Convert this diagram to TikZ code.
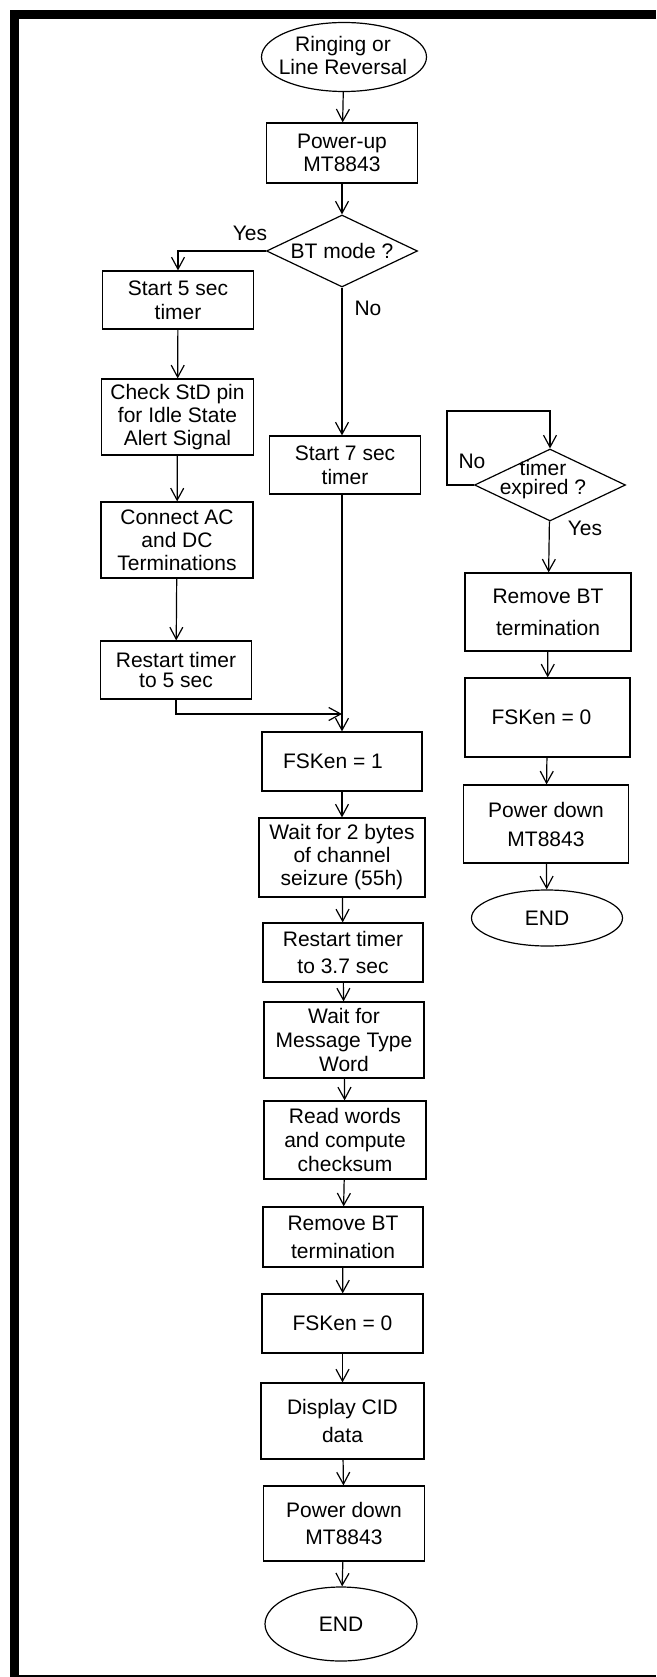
\documentclass[tikz,border=0pt]{standalone}
\usepackage{fontspec}
\setmainfont{Liberation Sans}
\usetikzlibrary{arrows.meta,shapes.geometric}
\tikzset{>={Straight Barb[length=12pt,width=13pt]}}

\begin{document}
\begin{tikzpicture}[x=1pt,y=-1pt,line width=1.2pt,font=\fontsize{21}{23}\selectfont,
  every node/.style={align=center,inner sep=2pt},
  box/.style 2 args={draw,rectangle,minimum width=#1,minimum height=#2},
  term/.style 2 args={draw,ellipse,inner sep=0pt,minimum width=#1,minimum height=#2},
  decide/.style={draw,diamond,aspect=2.1,inner sep=0pt,minimum width=151pt,minimum height=72pt},
  loose/.style={font=\fontsize{21}{#1}\selectfont}]

% Zone de dessin : les dimensions sont en pixels (1 px = 1 pt), l'axe y vers le bas.
% Drawing area: dimensions are in pixels (1 px = 1 pt), y axis pointing down.
\useasboundingbox (0,0) rectangle (656,1677);

% Cadre de la page / Page frame
\fill[black] (10,10) rectangle (19,1677);
\fill[black] (10,10) rectangle (656,19);
\draw[line width=2pt] (19,1676) -- (656,1676);

% Colonne principale / Main column
\node[term={165pt}{69pt}] (start) at (344,57) {};
\node (starttxt) at (343,55) {Ringing or\\Line Reversal};
\node[box={151pt}{60pt}] (pwrup) at (342,153) {Power-up\\MT8843};
\node[decide] (btmode) at (342,251) {BT mode ?};
\node[box={151pt}{58pt},loose=24] (start7) at (345,465) {Start 7 sec\\timer};
\node[box={160pt}{59pt}] (fsk1) at (342,761.5) {FSKen = 1\hspace*{18pt}};
\node[box={166pt}{79pt}] (wait2) at (342,857.5) {Wait for 2 bytes\\of channel\\seizure (55h)};
\node[box={160pt}{59pt},loose=27] (rst37) at (343,952.5) {Restart timer\\to 3.7 sec};
\node[box={160pt}{76pt},loose=24] (waitmsg) at (344,1040) {Wait for\\Message Type\\Word};
\node[box={162pt}{78pt},loose=24] (readw) at (345,1140) {Read words\\and compute\\checksum};
\node[box={160pt}{60pt},loose=28] (rmbt) at (343,1237) {Remove BT\\termination};
\node[box={161pt}{59pt}] (fsk0) at (342.5,1323.5) {FSKen = 0};
\node[box={163pt}{76pt},loose=28] (dispcid) at (342.5,1421) {Display CID\\data};
\node[box={161pt}{75pt},loose=27] (pwrdn) at (344,1523.5) {Power down\\MT8843};
\node[term={152pt}{74pt}] (stop) at (341,1624) {END};

% Branche BT à gauche / BT branch on the left
\node[box={151pt}{58pt},loose=24] (start5) at (178,300) {Start 5 sec\\timer};
\node[box={152pt}{76pt}] (chkstd) at (177.5,417) {Check StD pin\\for Idle State\\Alert Signal};
\node[box={152pt}{76pt}] (connect) at (177,540) {Connect AC\\and DC\\Terminations};
\node[box={151pt}{58pt},loose=20] (rst5) at (176,670) {Restart timer\\to 5 sec};

% Colonne de droite (temporisation) / Right column (timer)
\node[decide] (expired) at (550,485) {};
\node[loose=19] (expiredtxt) at (543,480) {timer\\expired ?};
\node[box={166pt}{78pt},loose=32] (rmbt2) at (548,612) {Remove BT\\termination};
\node[box={165pt}{79pt}] (fsk0b) at (547.5,717.5) {FSKen = 0\hspace*{12pt}};
\node[box={165pt}{78pt},loose=29] (pwrdn2) at (546,824) {Power down\\MT8843};
\node[term={151pt}{56pt}] (stop2) at (547,918) {END};

% Étiquettes / Labels
\node (yes1) at (250,233) {Yes};
\node (no1) at (368,308) {No};
\node (no2) at (472,461) {No};
\node (yes2) at (585,528) {Yes};

% Flèches / Arrows
\draw[->] (start) -- (pwrup);
\draw[->] (pwrup) -- (btmode);
\draw[->] (btmode.west) -| (start5.north);
\draw[->] (btmode.south) -- (btmode.south |- start7.north);
\draw[->] (start5) -- (chkstd);
\draw[->] (chkstd) -- (connect);
\draw[->] (connect) -- (rst5);
\coordinate (join) at (342,714);
\draw[->] (rst5.south) |- (join);
\draw[->] (start7.south -| btmode.south) -- (fsk1.north -| btmode.south);
\draw[->] (fsk1) -- (wait2);
\draw[->] (wait2) -- (rst37);
\draw[->] (rst37) -- (waitmsg);
\draw[->] (waitmsg) -- (readw);
\draw[->] (readw) -- (rmbt);
\draw[->] (rmbt) -- (fsk0);
\draw[->] (fsk0) -- (dispcid);
\draw[->] (dispcid) -- (pwrdn);
\draw[->] (pwrdn) -- (stop);

\coordinate (loop) at (447,411);
\draw[->] (expired.west) -| (loop) -| (expired.north);
\draw[->] (expired) -- (rmbt2);
\draw[->] (rmbt2) -- (fsk0b);
\draw[->] (fsk0b) -- (pwrdn2);
\draw[->] (pwrdn2) -- (stop2);

\end{tikzpicture}
\end{document}
